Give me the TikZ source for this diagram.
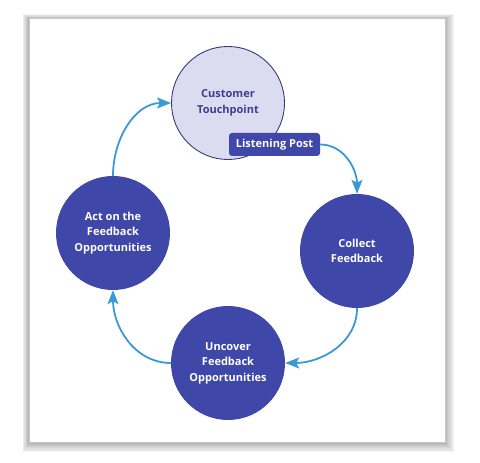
\documentclass[tikz,border=0pt]{standalone}
\usepackage{xcolor}
\usepackage{fontspec}
\setmainfont{Open Sans}
\usetikzlibrary{positioning,arrows.meta}

\definecolor{stageblue}{HTML}{3F47A8}
\definecolor{touchfill}{HTML}{DCDCF1}
\definecolor{touchline}{HTML}{3A3A78}
\definecolor{touchtext}{HTML}{3C3F8C}
\definecolor{flowblue}{HTML}{3A9AD8}

\tikzset{
  stage/.style={circle, fill=stageblue, minimum size=114pt, inner sep=0pt, align=center,
    text=white, font=\bfseries\fontsize{11}{15.5}\selectfont},
  flow/.style={flowblue, line width=1.8pt, -{Stealth[length=14pt,width=11pt,inset=3pt]}},
}

\begin{document}
\begin{tikzpicture}[x=1pt,y=1pt]
    \useasboundingbox (0,0) rectangle (480,463);
    \fill[white] (0,0) rectangle (480,463);

    % card with soft shadow
    \foreach \s in {1,...,8}
        \fill[black, opacity=0.04] (29-\s*0.8,20-\s*1.1) rectangle (445+\s*1.1,444+\s*0.6);
    \fill[white, draw=black!22, line width=1pt] (29,20) rectangle (445,444);

    % stages
    \node[stage, fill=touchfill, draw=touchline, line width=0.9pt, text=touchtext,
          minimum size=113pt] (touch) at (228,360) {Customer\\Touchpoint};
    \node[stage] (collect) at (357,212) {Collect\\Feedback};
    \node[stage] (uncover) at (228,100) {Uncover\\Feedback\\Opportunities};
    \node[stage] (act) at (113,230) {Act on the\\Feedback\\Opportunities};

    \node[fill=stageblue, text=white, rounded corners=3pt, minimum width=91pt, minimum height=23pt,
          inner sep=0pt, font=\bfseries\fontsize{11}{13}\selectfont] (post) at (274.5,318.5) {Listening Post};

    % cycle
    \draw[flow] (post.east) to[out=0, in=90] (collect.north);
    \draw[flow] (collect.south) to[out=-90, in=0] (uncover.east);
    \draw[flow] (uncover.west) to[out=180, in=-90] (act.south);
    \draw[flow] (act.north) to[out=90, in=180] (touch.west);
\end{tikzpicture}
\end{document}
